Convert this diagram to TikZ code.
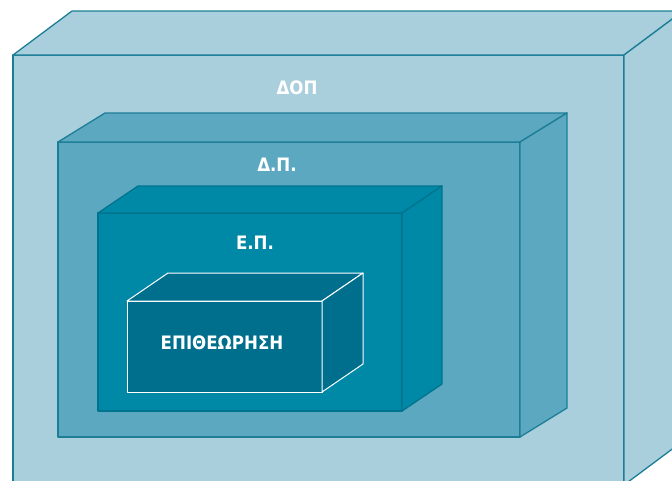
\documentclass[tikz,border=0pt]{standalone}
\usepackage{fontspec}
\setsansfont{DejaVu Sans Condensed}
\usetikzlibrary{positioning}
\definecolor{nbOuter}{HTML}{A9CFDD}
\definecolor{nbMiddle}{HTML}{5DA8C1}
\definecolor{nbInner}{HTML}{0089A7}
\definecolor{nbCore}{HTML}{006F8D}
\definecolor{nbEdge}{HTML}{1C7E96}
\tikzset{
  nbface/.style={line width=1.3pt, line join=round, draw=nbEdge},
  nblab/.style={font=\sffamily\bfseries\fontsize{18.5}{18.5}\selectfont, text=white, inner sep=0pt},
}
% front top-left corner, width, height, depth offset
\newcommand{\nbBox}[7]{%
  \filldraw[nbface, fill=#7] (#1,#2) rectangle ++(#3,#4);
  \filldraw[nbface, fill=#7] (#1,#2) -- ++(#5,-#6) -- ++(#3,0) -- ++(-#5,#6) -- cycle;
  \filldraw[nbface, fill=#7] (#1+#3,#2) -- ++(#5,-#6) -- ++(0,#4) -- ++(-#5,#6) -- cycle;
}

\begin{document}
\begin{tikzpicture}[x=1pt, y=-1pt]
  \useasboundingbox (0,0) rectangle (672,480);
  \clip (0,0) rectangle (672,480);
  \fill[white] (0,0) rectangle (672,480);

  \nbBox{13}{55}{611}{430}{59}{44}{nbOuter}
  \nbBox{58}{142}{462}{295}{47}{29}{nbMiddle}
  \begin{scope}[nbface/.append style={draw=nbInner!85!black}]
    \nbBox{98}{213}{304}{198}{40}{27}{nbInner}
  \end{scope}
  \begin{scope}[nbface/.append style={draw=white, line width=1pt}]
    \nbBox{127}{301}{195}{91}{41}{28}{nbCore}
  \end{scope}

  \node[nblab] (dop) at (297,88) {ΔΟΠ};
  \node[nblab] (dp) at (277,165) {Δ.Π.};
  \node[nblab] (ep) at (255,243) {Ε.Π.};
  \node[nblab] (epith) at (222,343) {ΕΠΙΘΕΩΡΗΣΗ};
\end{tikzpicture}
\end{document}
